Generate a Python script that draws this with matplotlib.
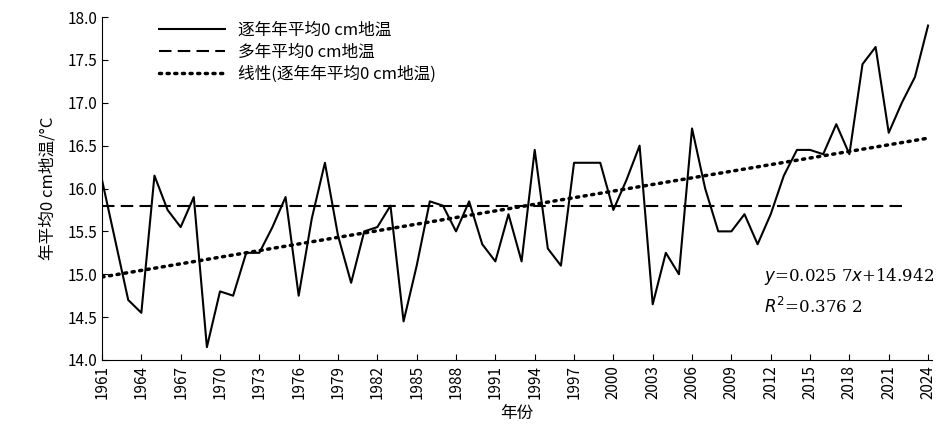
import matplotlib
matplotlib.use("Agg")
import matplotlib.pyplot as plt
import numpy as np

plt.rcParams['font.family'] = ['Noto Sans CJK SC', 'DejaVu Sans']

years = list(range(1961, 2025))
temps = [16.1, 15.4, 14.7, 14.55, 16.15, 15.75, 15.55, 15.9, 14.15, 14.8,
         14.75, 15.25, 15.25, 15.55, 15.9, 14.75, 15.65, 16.3, 15.45, 14.9,
         15.5, 15.55, 15.8, 14.45, 15.1, 15.85, 15.8, 15.5, 15.85, 15.35,
         15.15, 15.7, 15.15, 16.45, 15.3, 15.1, 16.3, 16.3, 16.3, 15.75,
         16.1, 16.5, 14.65, 15.25, 15.0, 16.7, 16.0, 15.5, 15.5, 15.7,
         15.35, 15.7, 16.15, 16.45, 16.45, 16.4, 16.75, 16.4, 17.45, 17.65,
         16.65, 17.0, 17.3, 17.9]
mean_temp = 15.8
mean_end_year = 2022
slope, intercept = 0.0257, 14.942

fig = plt.figure(figsize=(9.43, 4.43), dpi=100)
ax = fig.add_axes([102/943, 1-360/443, 830/943, 343/443])

ax.plot(years, temps, color='black', lw=1.5, label='逐年年平均0 cm地温')
ax.plot([1961, mean_end_year], [mean_temp, mean_temp], color='black', lw=1.5,
        ls=(0, (6, 3)), label='多年平均0 cm地温')
idx = np.arange(1, len(years) + 1)
ax.plot(years, slope * idx + intercept, color='black', lw=2.5, ls=(0, (0.6, 1.6)),
        dash_capstyle='round', label='线性(逐年年平均0 cm地温)')

ax.set_xlim(1961, 2024.3)
ax.set_ylim(14.0, 18.0)
ax.set_xticks(list(range(1961, 2025, 3)))
ax.set_xticklabels([str(y) for y in range(1961, 2025, 3)], rotation=90, fontsize=11)
ax.set_yticks(np.arange(14.0, 18.01, 0.5))
ax.set_yticklabels([f'{v:.1f}' for v in np.arange(14.0, 18.01, 0.5)], fontsize=11)
ax.tick_params(direction='in', length=4)
for s in ['top', 'right']:
    ax.spines[s].set_visible(False)
ax.set_xlabel('年份', fontsize=12)
ax.set_ylabel('年平均0 cm地温/°C', fontsize=12, labelpad=8)
ax.legend(loc='upper left', bbox_to_anchor=(0.05, 1.03), frameon=False, fontsize=12,
          handlelength=4, labelspacing=0.3)
ax.text(0.797, 0.2, '$y$=0.025 7$x$+14.942\n$R^2$=0.376 2', transform=ax.transAxes,
        ha='left', va='center', fontsize=12, family='DejaVu Serif', linespacing=1.6)
fig.savefig('out.png', dpi=100)
